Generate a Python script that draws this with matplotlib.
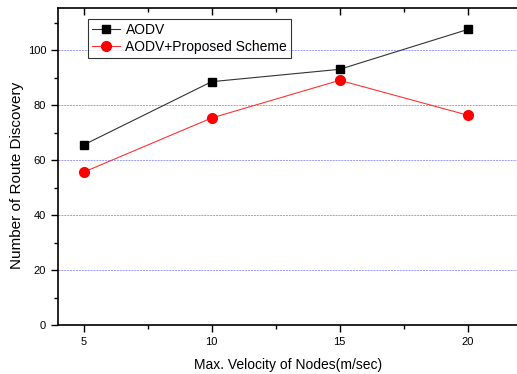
import matplotlib
matplotlib.use("Agg")
import matplotlib.pyplot as plt
from matplotlib.ticker import MultipleLocator

velocity = [5, 10, 15, 20]
aodv = [65.5, 88.5, 93.0, 107.5]
proposed = [55.6, 75.3, 89.0, 76.3]
series_labels = ["AODV", "AODV+Proposed Scheme"]

plt.rcParams['font.family'] = ['Liberation Sans', 'DejaVu Sans']

fig = plt.figure(figsize=(5.17, 3.74), dpi=100)
ax = fig.add_axes([58/517, 49/374, 461/517, 317/374])

for y in [20, 40, 60, 80, 100]:
    ax.axhline(y, color='#9a9aff', lw=0.7, ls=(0, (2, 1)), zorder=0)

ax.plot(velocity, aodv, color='#333333', lw=0.8, marker='s', ms=5.5,
        mfc='black', mec='black', label=series_labels[0])
ax.plot(velocity, proposed, color='#ff3333', lw=0.8, marker='o', ms=7,
        mfc='red', mec='red', label=series_labels[1])

ax.set_xlim(4, 22)
ax.set_ylim(0, 115.3)
ax.xaxis.set_major_locator(MultipleLocator(5))
ax.xaxis.set_minor_locator(MultipleLocator(2.5))
ax.yaxis.set_major_locator(MultipleLocator(20))
ax.yaxis.set_minor_locator(MultipleLocator(10))

ax.tick_params(axis='both', which='major', labelsize=8, length=5, width=1, direction='out')
ax.tick_params(axis='both', which='minor', length=3, width=1, direction='out')
ax.tick_params(top=True, right=True, which='both')
for t in ax.xaxis.get_major_ticks() + ax.xaxis.get_minor_ticks():
    t.tick2line.set_marker(3)
for t in ax.yaxis.get_major_ticks() + ax.yaxis.get_minor_ticks():
    t.tick2line.set_marker(1)
for s in ax.spines.values():
    s.set_linewidth(1.2)

ax.set_xlabel("Max. Velocity of Nodes(m/sec)", fontsize=10, labelpad=8)
ax.set_ylabel("Number of Route Discovery", fontsize=11)
ax.yaxis.set_label_coords(-0.073, 0.473)

leg = ax.legend(loc='upper left', bbox_to_anchor=(0.056, 0.979), fontsize=10,
                frameon=True, fancybox=False, edgecolor='black', borderpad=0.3,
                handlelength=2.0, handletextpad=0.4, labelspacing=0.2,
                borderaxespad=0.3)
leg.get_frame().set_linewidth(0.8)

fig.savefig("out.png", dpi=100)
